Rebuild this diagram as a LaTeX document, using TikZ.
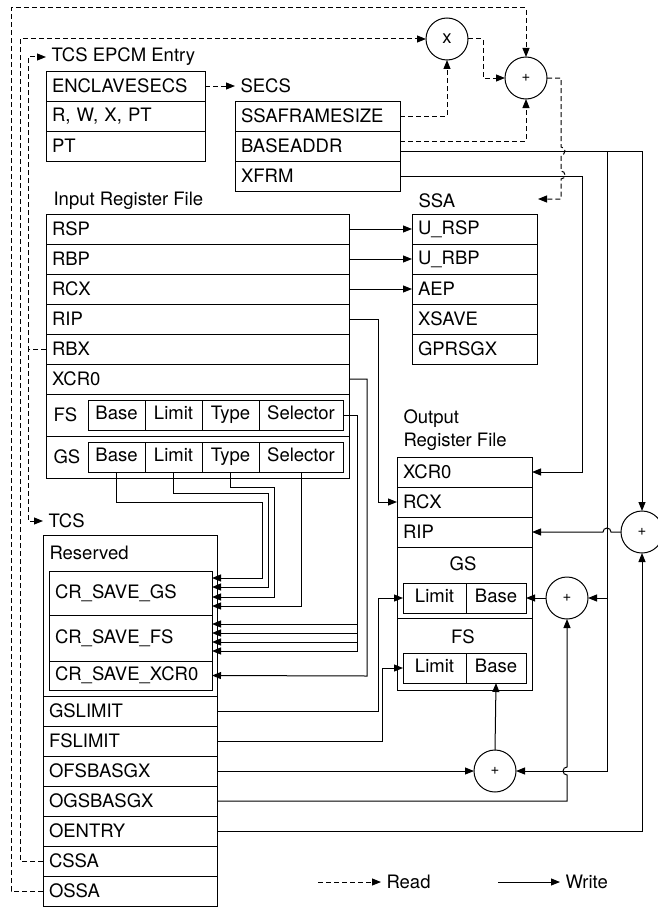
\documentclass[tikz,border=0pt]{standalone}
\usepackage{fontspec}
\setmainfont{TeX Gyre Heros}
\usetikzlibrary{arrows.meta, positioning}

\begin{document}
\begin{tikzpicture}[x=1pt, y=-1pt, font=\fontsize{18.5}{22}\selectfont, line width=1pt, >={Triangle[length=9pt,width=7pt]}]
\tikzset{
  row/.style={draw, text width=#1, inner xsep=6pt, inner ysep=0pt, outer sep=0pt, minimum height=30pt, align=left},
  sect/.style 2 args={draw, anchor=north west, minimum width=#1, minimum height=#2, inner sep=0pt, outer sep=0pt},
  fld/.style={draw, minimum width=#1, minimum height=30pt, text height=13pt, text depth=4pt, inner sep=0pt, outer sep=0pt},
  lbl/.style={inner xsep=5pt, inner ysep=0pt, anchor=west},
  op/.style={draw, circle, minimum size=42pt, inner sep=0pt, outer sep=0pt},
  rd/.style={->, dash pattern=on 5pt off 3pt},
  wr/.style={->}
}
\useasboundingbox (0,0) rectangle (658,907);

% TCS EPCM entry
\node[lbl] (lblepcm) at (46,57) {TCS EPCM Entry};
\node[row=147, anchor=north west] (enclave) at (46,71) {ENCLAVESECS};
\node[row=147, below=0pt of enclave] (rwx) {R, W, X, PT};
\node[row=147, below=0pt of rwx] (pt) {PT};

% SECS
\node[lbl] (lblsecs) at (235,86) {SECS};
\node[row=153, anchor=north west] (ssafs) at (235,101) {SSAFRAMESIZE};
\node[row=153, below=0pt of ssafs] (baseaddr) {BASEADDR};
\node[row=153, below=0pt of baseaddr] (xfrm) {XFRM};

% adders / multiplier
\node[op] (mulc) at (447,39) {x};
\node[op, font=\fontsize{15}{15}\selectfont] (addsecs) at (526,78) {+};
\node[op, font=\fontsize{15}{15}\selectfont] (addrip) at (642,532) {+};
\node[op, font=\fontsize{15}{15}\selectfont] (addgs) at (567,598) {+};
\node[op, font=\fontsize{15}{15}\selectfont] (addfs) at (495,771) {+};

% Input register file
\node[lbl, inner xsep=0pt] (lblirf) at (53,201) {Input Register File};
\node[row=291, anchor=north west] (rsp) at (46,214) {RSP};
\node[row=291, below=0pt of rsp] (rbp) {RBP};
\node[row=291, below=0pt of rbp] (rcx) {RCX};
\node[row=291, below=0pt of rcx] (rip) {RIP};
\node[row=291, below=0pt of rip] (rbx) {RBX};
\node[row=291, below=0pt of rbx] (ixcr) {XCR0};
\node[sect={303}{42}] (fsrow) at (46,394) {};
\node[lbl, inner xsep=0pt] (lblfs) at (53,415) {FS};
\node[fld=57, anchor=west] (fsbase) at (88,415) {Base};
\node[fld=57, right=0pt of fsbase] (fslim) {Limit};
\node[fld=57, right=0pt of fslim] (fstype) {Type};
\node[fld=84, right=0pt of fstype] (fssel) {Selector};
\node[sect={303}{42}] (gsrow) at (46,436) {};
\node[lbl, inner xsep=0pt] (lblgs) at (53,457) {GS};
\node[fld=57, anchor=west] (gsbase) at (88,457) {Base};
\node[fld=57, right=0pt of gsbase] (gslim) {Limit};
\node[fld=57, right=0pt of gslim] (gstype) {Type};
\node[fld=84, right=0pt of gstype] (gssel) {Selector};

% SSA
\node[lbl, inner xsep=0pt] (lblssa) at (418,201) {SSA};
\node[row=113, anchor=north west] (ursp) at (412,214) {U\_RSP};
\node[row=113, below=0pt of ursp] (urbp) {U\_RBP};
\node[row=113, below=0pt of urbp] (aep) {AEP};
\node[row=113, below=0pt of aep] (xsave) {XSAVE};
\node[row=113, below=0pt of xsave] (gprsgx) {GPRSGX};
\coordinate (ssain) at (538,199);

% Output register file
\node[lbl, inner xsep=0pt, align=left, font=\fontsize{18.5}{23}\selectfont] (lblorf) at (403,430) {Output\\Register File};
\node[row=123, anchor=north west] (oxcr) at (397,457) {XCR0};
\node[row=123, below=0pt of oxcr] (orcx) {RCX};
\node[row=123, below=0pt of orcx] (orip) {RIP};
\node[sect={135}{71}] (ogs) at (397,547) {};
\node (lblogs) at (463,564) {GS};
\node[fld=63, anchor=north west] (ogslim) at (403,583) {Limit};
\node[fld=60, right=0pt of ogslim] (ogsbase) {Base};
\node[sect={135}{72}] (ofs) at (397,618) {};
\node (lblofs) at (463,637) {FS};
\node[fld=63, anchor=north west] (ofslim) at (403,653) {Limit};
\node[fld=60, right=0pt of ofslim] (ofsbase) {Base};

% TCS
\node[lbl] (lbltcs) at (43,521) {TCS};
\node[sect={174}{161}] (tcsres) at (43,535) {};
\node[lbl, inner xsep=0pt] (lblres) at (49,553) {Reserved};
\node[row=151, anchor=north west, minimum height=44pt] (crgs) at (49,571) {CR\_SAVE\_GS};
\node[row=151, below=0pt of crgs, minimum height=46pt] (crfs) {CR\_SAVE\_FS};
\node[row=151, below=0pt of crfs, minimum height=29pt] (crxcr) {CR\_SAVE\_XCR0};
\node[row=162, anchor=north west] (gslimit) at (43,696) {GSLIMIT};
\node[row=162, below=0pt of gslimit] (fslimit) {FSLIMIT};
\node[row=162, below=0pt of fslimit] (ofsbasgx) {OFSBASGX};
\node[row=162, below=0pt of ofsbasgx] (ogsbasgx) {OGSBASGX};
\node[row=162, below=0pt of ogsbasgx] (oentry) {OENTRY};
\node[row=162, below=0pt of oentry] (cssa) {CSSA};
\node[row=162, below=0pt of cssa] (ossa) {OSSA};

% reads
\draw[rd] (ossa.west) -| (11,8) -| (addsecs.north);
\draw[rd] (cssa.west) -| (20,39) -- (mulc.west);
\draw[rd] (rbx.west) -| (28,57) -- (lblepcm.west);
\draw[rd] (rbx.west) -| (28,521) -- (lbltcs.west);
\draw[rd] (enclave.east) -- (lblsecs.west);
\draw[rd] (ssafs.east) -| (mulc.south);
\draw[rd] ([yshift=5pt]baseaddr.east) -| (addsecs.south);
\draw[rd] (mulc.east) -| (483,78) -- (addsecs.west);
\draw[rd] (addsecs.east) -| (561,147) arc[start angle=90, end angle=-90, radius=4pt] -- (561,171) arc[start angle=90, end angle=-90, radius=4pt] -- (561,199) -- (ssain);

% writes
\draw[wr] (rsp.east) -- (ursp.west);
\draw[wr] (rbp.east) -- (urbp.west);
\draw[wr] (rcx.east) -- (aep.west);
\draw[wr] (rip.east) -| (378,502) -- (orcx.west);
\draw[wr] (ixcr.east) -| (367,676) -- (crxcr.east);
\draw[wr] (fssel.east) -| (357,624) -- ([yshift=14pt]crfs.east);
\draw[wr] (fssel.east) -| (357,633) -- ([yshift=5pt]crfs.east);
\draw[wr] (fssel.east) -| (357,642) -- ([yshift=-4pt]crfs.east);
\draw[wr] (fssel.east) -| (357,651) -- ([yshift=-13pt]crfs.east);
\draw[wr] (gsbase.south) |- (262,502) |- ([yshift=15pt]crgs.east);
\draw[wr] (gslim.south) |- (268,493) |- ([yshift=6pt]crgs.east);
\draw[wr] (gstype.south) |- (274,487) |- ([yshift=-4pt]crgs.east);
\draw[wr] (gssel.south) |- ([yshift=-13pt]crgs.east);
\draw[wr] (gslimit.east) -| ([xshift=-25pt]ogslim.west) -- (ogslim.west);
\draw[wr] (fslimit.east) -| ([xshift=-21pt]ofslim.west) -- (ofslim.west);
\draw[wr] (ofsbasgx.east) -- (addfs.west);
\draw[wr] (ogsbasgx.east) -| (567,775) arc[start angle=-90, end angle=-270, radius=4pt] -- (addgs.south);
\draw[wr] (oentry.east) -| (addrip.south);
\draw[wr] ([yshift=-5pt]baseaddr.east) -| (addrip.north);
\draw[wr] ([yshift=-5pt]baseaddr.east) -| (607,598) -- (addgs.east);
\draw[wr] ([yshift=-5pt]baseaddr.east) -| (607,771) -- (addfs.east);
\draw[wr] (xfrm.east) -| (582,472) -- (oxcr.east);
\draw[wr] (addrip.west) -- (611,532) arc[start angle=0, end angle=180, radius=4pt] -- (orip.east);
\draw[wr] (addgs.west) -- (ogsbase.east);
\draw[wr] (addfs.north) -- (ofsbase.south);

% legend
\coordinate (rdstart) at (318,882);
\node[lbl] (lblread) at (381,882) {Read};
\draw[rd] (rdstart) -- (lblread.west);
\coordinate (wrstart) at (498,882);
\node[lbl] (lblwrite) at (560,882) {Write};
\draw[wr] (wrstart) -- (lblwrite.west);

\end{tikzpicture}
\end{document}
